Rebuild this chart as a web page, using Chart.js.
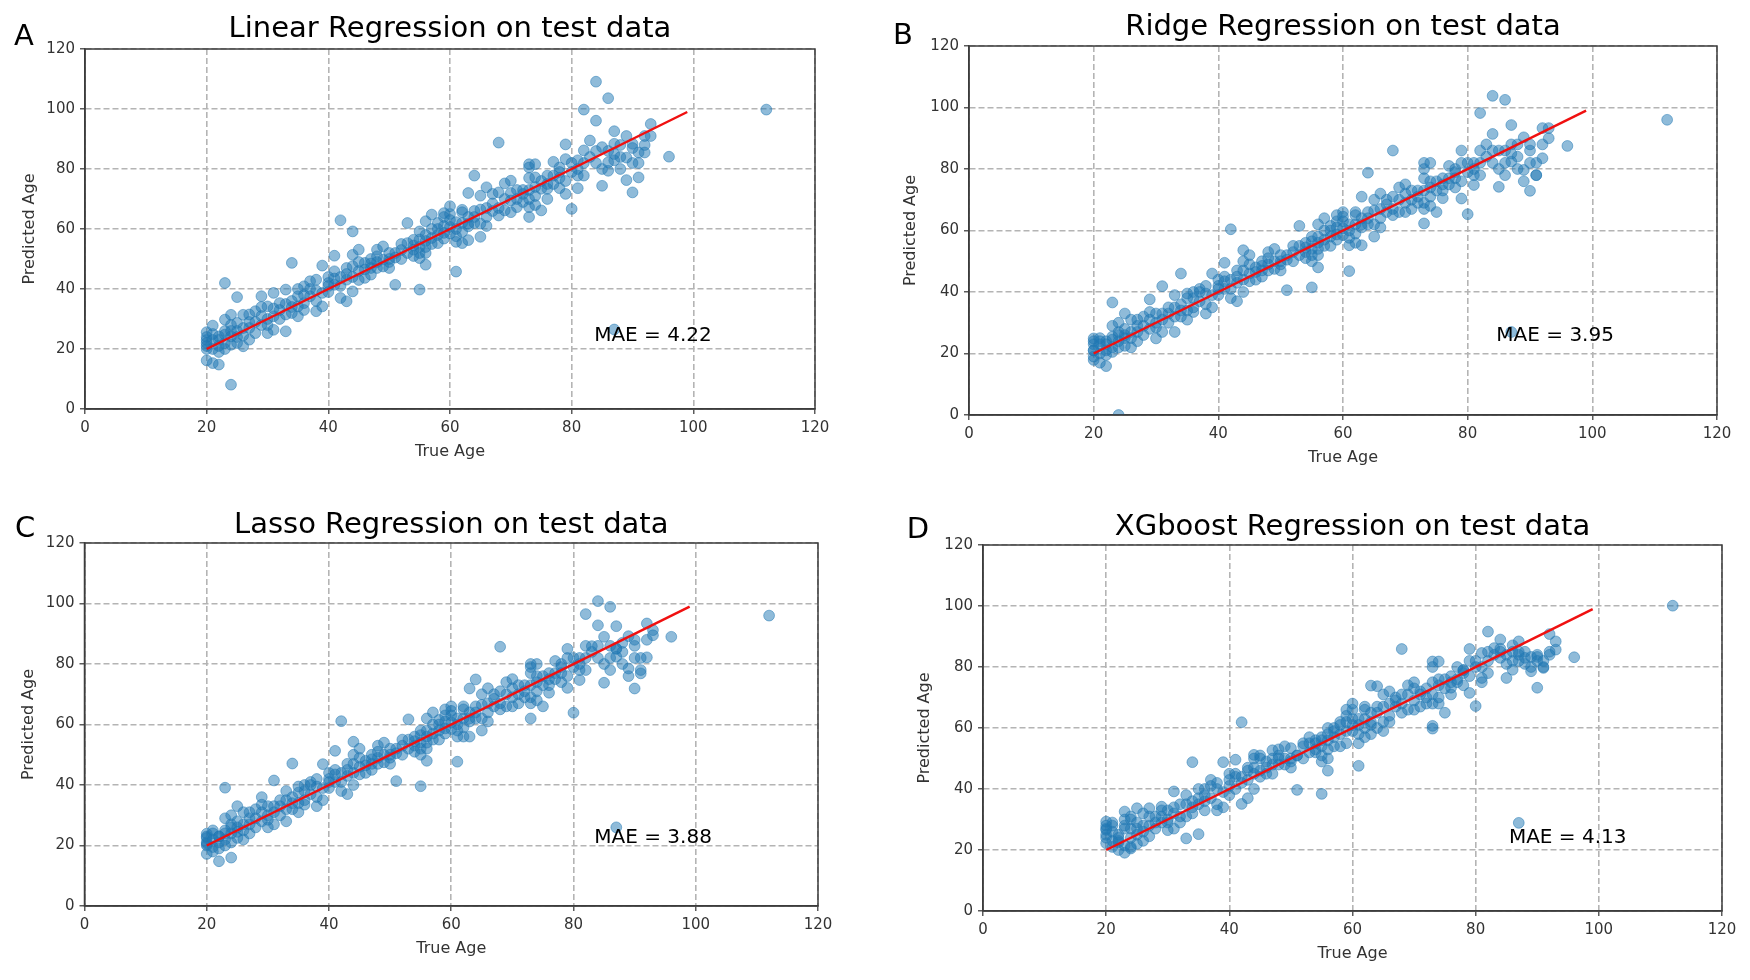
<!DOCTYPE html>
<html>
<head>
<meta charset="utf-8">
<title>Regression on test data</title>
<script src="https://cdn.jsdelivr.net/npm/chart.js@4.4.1/dist/chart.umd.min.js"></script>
<style>
    html, body { margin: 0; padding: 0; background: #fff; }
    body { width: 1750px; height: 980px; position: relative; overflow: hidden; }
    canvas { position: absolute; }
</style>
</head>
<body>
<canvas id="chartA"></canvas>
<canvas id="chartB"></canvas>
<canvas id="chartC"></canvas>
<canvas id="chartD"></canvas>
<script>
// true ages of the test set (same for all four models)
const trueAge = [
    20, 20, 20, 20, 20, 21, 21, 21, 22, 22,
    22, 23, 23, 23, 23, 24, 24, 24, 24, 25,
    25, 25, 26, 26, 26, 27, 27, 28, 28, 29,
    29, 30, 30, 30, 31, 31, 31, 32, 32, 33,
    33, 34, 34, 34, 35, 35, 35, 36, 36, 37,
    37, 38, 38, 38, 39, 39, 39, 40, 40, 41,
    41, 41, 42, 42, 42, 43, 43, 44, 44, 44,
    44, 45, 45, 46, 46, 47, 47, 48, 48, 48,
    49, 49, 50, 50, 51, 51, 52, 53, 53, 54,
    54, 55, 55, 55, 55, 56, 56, 56, 57, 57,
    58, 58, 59, 59, 59, 59, 60, 60, 60, 61,
    61, 61, 61, 62, 62, 62, 63, 63, 63, 63,
    64, 64, 64, 65, 65, 65, 66, 66, 67, 68,
    68, 68, 69, 69, 70, 70, 70, 71, 72, 73,
    73, 73, 73, 73, 74, 74, 74, 75, 75, 76,
    76, 77, 77, 78, 78, 79, 79, 79, 80, 81,
    81, 81, 82, 82, 82, 83, 84, 84, 85, 85,
    86, 86, 86, 87, 87, 87, 87, 88, 89, 89,
    89, 90, 90, 90, 91, 91, 92, 92, 93, 93,
    96, 112, 22, 24, 27, 29, 32, 34, 36, 40,
    43, 45, 47, 50, 52, 54, 56, 57, 58, 62,
    66, 67, 71, 72, 74, 76, 78, 80, 83, 84, 88, 91,
    20, 20, 21, 21, 22, 23, 23, 24, 25, 25,
    26, 27, 28, 29, 30, 31, 33, 33, 35, 36,
    37, 38, 40, 41, 42, 43, 44, 45, 46, 47,
    48, 49, 50, 51, 52, 53, 54, 55, 55, 56,
    56, 57, 58, 59, 60, 60, 61, 62, 63, 64,
    65, 66, 67, 68, 69, 70, 71, 72, 73, 73,
    74, 75, 76, 77, 78, 79, 80, 81, 82, 84,
    85, 86, 87, 88, 90, 92
];

const linearPred = [
    25.6, 23, 20, 16.2, 22, 15.3, 27.8, 20, 14.8, 24.2,
    21, 24.8, 29.8, 42, 22, 8.1, 24.2, 31.4, 21.4, 37.3,
    28.7, 24, 31.4, 20.9, 27, 23.1, 29, 25.3, 32.6, 37.6,
    28, 25.3, 34.2, 30, 38.7, 30.9, 26.4, 35.3, 33, 25.9,
    39.8, 32, 48.7, 36, 30.9, 34.2, 37.6, 40.9, 35.3, 42.6,
    37.6, 43.1, 32.6, 36, 38.7, 34.2, 47.8, 42, 39, 45.9,
    41.4, 51.1, 62.9, 37, 44, 35.9, 43.1, 59.2, 39.2, 51.4,
    47.6, 53.1, 46, 48.7, 43.7, 44.8, 50, 53.1, 50.9, 47,
    54.2, 49.8, 47, 52, 41.4, 52, 50, 55.3, 62, 53.1,
    56.4, 50.3, 39.8, 59.2, 54, 48.1, 62.6, 52, 64.8, 57,
    55.3, 60, 65.3, 58.7, 56.8, 64, 67.6, 60.7, 63, 57.6,
    45.8, 55.7, 62.3, 66.4, 65.6, 55.3, 72, 61.8, 56.3, 60.9,
    64, 77.8, 62, 71.1, 57.4, 61.8, 73.9, 64, 71.7, 88.8,
    64.5, 72.2, 66.2, 75.2, 76.1, 69.5, 65.6, 67.3, 71.7, 81.6,
    80.5, 70, 64, 67.3, 81.6, 77.2, 68, 73.4, 66.2, 77.8,
    73.4, 82.4, 77.8, 80.5, 73.6, 83.3, 71.7, 88.2, 66.7, 82.9,
    77.8, 73.6, 86.2, 77.8, 99.8, 89.5, 109.1, 96.1, 87.3, 74.4,
    103.6, 82.2, 79.4, 92.6, 88.4, 82.9, 26.5, 80, 91, 83.8,
    76.3, 88.4, 87, 72.2, 85.5, 77.2, 91, 85.5, 95, 91,
    84.1, 99.8, 23, 26, 27, 31, 30, 34, 38, 44,
    47, 49, 47, 50, 53, 51, 56, 60, 58, 62,
    67, 66, 70, 73, 74, 75, 77, 79, 84, 86, 84, 82,
    24, 21, 23, 25, 19, 26, 20, 28, 22, 26,
    24.5, 31.5, 29, 34, 28, 33.5, 35, 31.5, 40, 33,
    40, 39.5, 41, 43.5, 41, 45, 44, 43, 46.5, 48.5,
    49, 47.5, 49, 50.5, 55, 52, 54.5, 56.5, 52, 54,
    58, 55, 62, 61, 58.5, 65, 60, 59, 64, 66,
    66.5, 61, 68.5, 67, 70, 72, 73, 69, 73, 77,
    71, 76, 70, 75, 79, 76, 82, 80, 82, 82,
    80, 86, 85, 88, 82, 88
];

const ridgePred = [
    24.9, 23, 19, 17.9, 21, 17, 25, 20, 15.9, 24,
    21, 24.5, 29, 36.6, 22, 0, 24, 30, 22, 33,
    28, 25, 31, 22, 27, 24, 29, 26, 32, 37.6,
    28, 24.9, 33, 30, 41.9, 31, 27, 35, 33, 27,
    39, 32, 46, 36, 31, 34, 38, 40, 35, 41,
    37, 42, 33, 36, 39, 35, 46, 42, 39, 45,
    41, 49.5, 60.4, 38, 44, 37, 43, 53.6, 40, 50,
    47, 52, 46, 48, 44, 45, 50, 53, 51, 47,
    54, 50, 47, 52, 40.6, 52, 50, 55, 61.5, 53,
    56, 50, 41.5, 58, 54, 48, 62, 52, 64, 57,
    55, 60, 65, 58.7, 57, 63, 66, 60.7, 63, 57.6,
    46.8, 55.2, 62, 66, 65, 56, 71, 62, 55.2, 61,
    64, 78.8, 62, 70, 58, 62, 72, 64, 70, 86,
    65, 71, 66, 74, 75, 69, 66, 67, 71, 82,
    80, 69, 62.3, 67, 82, 76, 68, 73, 66, 77,
    73, 81, 77, 80, 74, 82, 70.4, 86, 65.3, 82,
    78, 74.8, 86, 78, 98.2, 88, 103.8, 91.4, 86, 74.2,
    102.5, 82, 78, 94.3, 88, 82.4, 27, 80, 90.3, 79.7,
    76, 88, 86, 72.9, 78, 78, 93.3, 83.5, 93.3, 90,
    87.5, 96, 23, 26, 27, 31, 30, 34, 38, 44,
    47, 49, 47, 50, 53, 51, 56, 60, 58, 62,
    67, 66, 70, 73, 74, 75, 77, 79, 84, 86, 84, 82,
    24, 21, 23, 24, 19.5, 25.5, 20.5, 27, 22.5, 26,
    25, 31, 29, 33.5, 28.5, 33, 35, 32, 39.5, 33.5,
    40, 39.5, 41, 43.5, 41, 45, 44, 43.5, 46.5, 48.5,
    49, 47.5, 49, 50.5, 55, 52, 54.5, 56.5, 52, 54,
    58, 55, 61.5, 61, 58.5, 64.5, 60, 59, 64, 66,
    66.5, 61, 68.5, 67, 70, 72, 73, 69, 73, 77,
    71, 76, 70.5, 75, 79, 76, 82, 80, 82, 82,
    80, 86, 85, 88, 82, 88
];

const lassoPred = [
    23.9, 22.5, 20, 17.2, 21, 18, 25, 19.5, 14.8, 23,
    21, 24, 29, 39.1, 22, 16, 24, 30, 21, 33,
    28, 24.5, 31, 22, 27, 24, 29, 26, 32, 36,
    28, 26, 33, 30, 41.5, 31, 27, 35, 33, 28,
    38, 32, 47.1, 36, 31, 34, 37.5, 40, 35, 41,
    37, 42, 33, 36, 39, 35, 46.9, 42, 39, 45,
    41, 51.3, 61.1, 38, 44, 37, 43, 54.3, 40, 50,
    47, 52, 46, 48, 44, 45, 50, 53, 51, 47,
    54, 50, 47, 52, 41.3, 52, 50, 55, 61.7, 53,
    56, 50, 39.6, 58, 54, 48, 62, 52, 64, 57,
    55, 60, 65, 58.7, 57, 63, 66, 60.7, 63, 58,
    47.7, 56, 62, 66, 65, 56, 71.9, 62, 56, 61,
    64, 74.9, 62, 70, 58, 62, 72, 64, 70, 85.7,
    65, 71, 66, 74, 75, 69, 66, 67, 71, 80,
    79, 69, 62, 67, 80, 76, 68, 73, 66, 77,
    73, 81, 77, 80, 74, 82, 72.1, 85, 63.9, 82,
    78, 74.7, 86, 78, 96.5, 85.9, 100.8, 92.8, 89, 73.8,
    98.9, 82, 78, 92.5, 85.1, 82.4, 26, 80, 89.2, 78.5,
    76, 88, 86, 71.9, 76.9, 78, 93.4, 82.2, 91.2, 89.5,
    89, 96, 23, 26, 27, 31, 30, 34, 38, 44,
    47, 49, 47, 50, 53, 51, 56, 60, 58, 62,
    67, 66, 70, 73, 74, 75, 77, 79, 84, 86, 84, 82,
    23, 20.5, 22, 24, 19, 25, 20, 27, 22.5, 26,
    25, 31, 29, 33.5, 28.5, 33, 35, 32, 39.5, 33.5,
    40, 39.5, 41, 43.5, 41, 45, 44, 43.5, 46.5, 48.5,
    49, 47.5, 49, 50.5, 55, 52, 54.5, 56.5, 52, 54,
    58, 55, 61.5, 61, 58.5, 64.5, 60, 59, 64, 66,
    66.5, 61, 68.5, 67, 70, 72, 73, 69, 73, 77,
    71, 76, 70.5, 75, 79, 76, 82, 80, 82, 82,
    80, 86, 85, 87, 82, 88
];

const xgbPred = [
    29.3, 26.6, 22.2, 24, 27, 23, 28, 21, 20, 25,
    22.5, 27, 30, 32.6, 19.1, 21, 24, 31, 20.5, 33.7,
    29, 25, 32, 23, 28, 24.5, 33.7, 27, 31, 34.2,
    29, 26.5, 33, 30, 39.2, 32, 27, 35, 31, 23.8,
    38, 32, 48.8, 36, 25.2, 35, 37, 40, 36, 43,
    37, 42, 33, 35, 39, 34, 48.8, 43, 38, 45,
    40, 49.6, 61.9, 35.1, 44, 37, 43, 51.2, 40, 50,
    47, 51, 46, 49, 45, 45, 52.7, 53, 51, 48,
    54, 50, 47, 53.4, 39.7, 51, 50, 55, 57, 53,
    56, 49, 38.4, 56, 54, 46, 60, 50, 60, 57,
    54, 61, 66, 59, 55, 64, 68, 61, 63, 58,
    47.6, 55, 63, 67, 66, 57, 73.9, 62, 58, 61,
    65, 73.7, 60, 71, 59, 62, 72, 64, 70, 85.9,
    65, 71, 66, 74, 75, 69, 66, 67, 70, 81.8,
    80, 68, 60.7, 59.8, 81.8, 76, 68, 73, 65, 77,
    73.2, 80, 76, 79, 74, 82, 71.5, 85.9, 67.2, 84.6,
    76.4, 75, 85, 78, 91.6, 86.2, 89, 86, 84, 76.4,
    87.1, 82, 79.1, 88.4, 85, 82, 28.9, 81, 83.3, 78.6,
    80, 83.3, 84, 73.2, 79.7, 80, 90.8, 84, 88.4, 85.7,
    83.2, 100.1, 24, 27, 28, 31, 29, 34, 38, 45,
    47, 50, 48, 50, 54, 52, 56, 59, 58, 63,
    68, 67, 71, 73, 74, 75, 78, 80, 84, 85, 83, 82,
    28, 25, 26, 29, 23, 28, 21.5, 30, 22, 27,
    26, 31, 29, 33, 29, 34, 35, 31, 40, 33,
    41, 40, 41, 44, 42, 46, 45, 44, 47, 50,
    50, 48, 49, 51, 55, 52, 55, 57, 51, 53,
    58, 54, 62, 62, 59, 66, 61, 60, 65, 67,
    67, 62, 69, 68, 71, 73, 72, 68, 71, 75,
    70, 76, 71, 75, 79, 77, 82, 80, 82, 83,
    81, 85, 84, 85, 82, 85
];

const panelTitles = ['Linear Regression on test data', 'Ridge Regression on test data',
                     'Lasso Regression on test data', 'XGboost Regression on test data'];
const panelLetters = ['A', 'B', 'C', 'D'];
const maeLabels = ['MAE = 4.22', 'MAE = 3.95', 'MAE = 3.88', 'MAE = 4.13'];
const axisTicks = [0, 20, 40, 60, 80, 100, 120];
const idealLine = [20, 99];

// page layout (pixels on the 1750x980 page)
const CW = 875, CH = 490;
const panels = [
    { id: 'chartA', pred: linearPred, ox: 0,   oy: 0,   plot: { l: 85,   t: 49,  r: 815,  b: 409 },
      titleY: 37,  letter: [24, 37],   xTitleY: 452,   yTitleX: 29.5,  maeAt: [83.7, 24.3] },
    { id: 'chartB', pred: ridgePred,  ox: 875, oy: 0,   plot: { l: 969,  t: 46,  r: 1717, b: 415 },
      titleY: 35,  letter: [903, 36],  xTitleY: 457.6, yTitleX: 911,   maeAt: [84.6, 25.7] },
    { id: 'chartC', pred: lassoPred,  ox: 0,   oy: 490, plot: { l: 84.5, t: 543, r: 818,  b: 906 },
      titleY: 533, letter: [25, 529],  xTitleY: 948.6, yTitleX: 28.5,  maeAt: [83.4, 22.4] },
    { id: 'chartD', pred: xgbPred,    ox: 875, oy: 490, plot: { l: 983,  t: 545, r: 1722, b: 911 },
      titleY: 535, letter: [918, 530], xTitleY: 953.6, yTitleX: 925,   maeAt: [85.4, 23.9] }
];

const FONT = 'DejaVu Sans';
const AXIS_TITLE_SIZE = 16;

// frame, title, panel letter and MAE note
const panelDecor = {
    id: 'panelDecor',
    afterDraw(chart, args, o) {
        const { ctx, chartArea: a, scales } = chart;
        ctx.save();
        ctx.strokeStyle = '#3c3c3c';
        ctx.lineWidth = 1.5;
        ctx.strokeRect(a.left, a.top, a.right - a.left, a.bottom - a.top);

        ctx.fillStyle = '#000';
        ctx.font = `29px "${FONT}"`;
        ctx.textAlign = 'center';
        ctx.textBaseline = 'alphabetic';
        ctx.fillText(o.title, (a.left + a.right) / 2, o.titleY);

        ctx.textBaseline = 'middle';
        ctx.fillText(o.letter, o.letterX, o.letterY);

        ctx.font = `20px "${FONT}"`;
        ctx.textAlign = 'left';
        ctx.fillText(o.mae, scales.x.getPixelForValue(o.maeAt[0]), scales.y.getPixelForValue(o.maeAt[1]));
        ctx.restore();
    }
};

function axisOptions(label) {
    return {
        type: 'linear',
        min: 0,
        max: 120,
        afterBuildTicks: s => { s.ticks = axisTicks.map(v => ({ value: v })); },
        ticks: { font: { family: FONT, size: 15 }, color: '#333', padding: 5, maxRotation: 0 },
        grid: { color: '#b4b4b4', lineWidth: 1.6, tickLength: 5, tickColor: '#333', tickWidth: 1.2, tickBorderDash: [] },
        border: { display: true, color: '#3c3c3c', width: 1.5, dash: [6, 3] },
        title: { display: true, text: label, color: '#333', padding: 0,
                 font: { family: FONT, size: AXIS_TITLE_SIZE, lineHeight: 1.2 } }
    };
}

panels.forEach((p, i) => {
    const canvas = document.getElementById(p.id);
    canvas.width = CW;
    canvas.height = CH;
    canvas.style.left = p.ox + 'px';
    canvas.style.top = p.oy + 'px';

    const half = AXIS_TITLE_SIZE * 1.2 / 2;
    const yAxisLeft = p.yTitleX - half;
    const xAxisBottom = p.xTitleY + half;

    const xOpts = axisOptions('True Age');
    xOpts.afterFit = s => { s.height = xAxisBottom - p.plot.b; };
    const yOpts = axisOptions('Predicted Age');
    yOpts.afterFit = s => { s.width = p.plot.l - yAxisLeft; };

    new Chart(canvas, {
        type: 'scatter',
        data: {
            datasets: [
                {
                    type: 'line',
                    data: idealLine.map(v => ({ x: v, y: v })),
                    borderColor: '#f01010',
                    borderWidth: 2.5,
                    pointRadius: 0,
                    order: 0
                },
                {
                    data: trueAge.map((x, k) => ({ x: x, y: p.pred[k] })),
                    backgroundColor: 'rgba(31, 119, 180, 0.5)',
                    borderColor: 'rgba(31, 119, 180, 0.5)',
                    borderWidth: 1,
                    pointRadius: 5.4,
                    order: 1
                }
            ]
        },
        options: {
            responsive: false,
            animation: false,
            layout: {
                padding: {
                    left: yAxisLeft - p.ox,
                    top: p.plot.t - p.oy,
                    right: p.ox + CW - p.plot.r,
                    bottom: p.oy + CH - xAxisBottom
                }
            },
            scales: { x: xOpts, y: yOpts },
            plugins: {
                legend: { display: false },
                tooltip: { enabled: false },
                panelDecor: {
                    title: panelTitles[i],
                    titleY: p.titleY - p.oy,
                    letter: panelLetters[i],
                    letterX: p.letter[0] - p.ox,
                    letterY: p.letter[1] - p.oy,
                    mae: maeLabels[i],
                    maeAt: p.maeAt
                }
            }
        },
        plugins: [panelDecor]
    });
});
</script>
</body>
</html>
